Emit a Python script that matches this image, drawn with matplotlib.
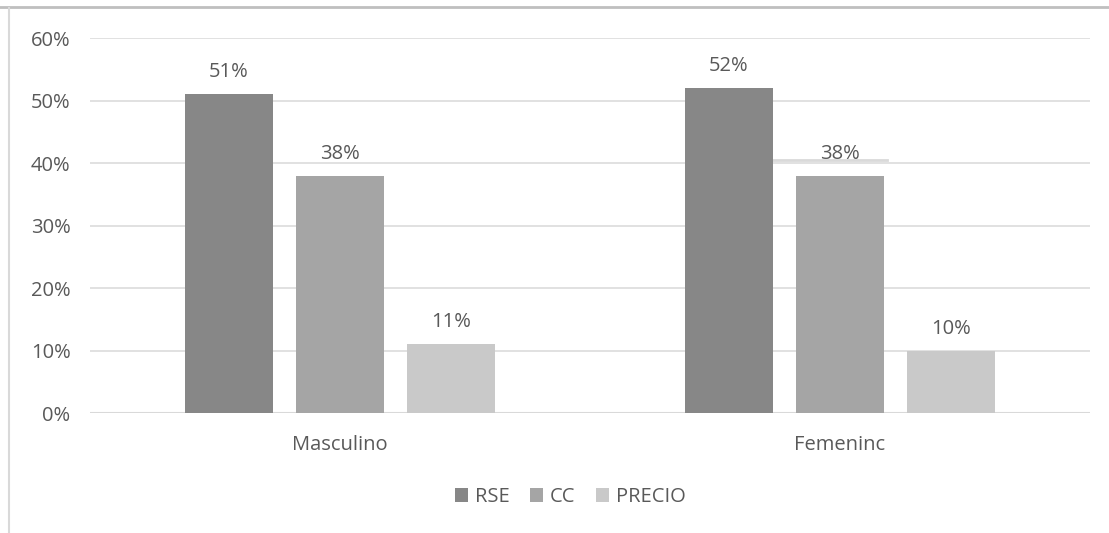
import matplotlib.pyplot as plt
import numpy as np
from matplotlib.lines import Line2D

categorias = ['Masculino', 'Femeninc']
series = ['RSE', 'CC', 'PRECIO']
rse = [0.51, 0.52]
cc = [0.38, 0.38]
precio = [0.11, 0.10]
colores = ['#878787', '#a5a5a5', '#c9c9c9']

plt.rcParams['font.family'] = ['Open Sans', 'DejaVu Sans']
texto = '#595959'
fs = 14.5

fig = plt.figure(figsize=(11.09, 5.33), dpi=100)
ax = fig.add_axes([0.0812, 0.2251, 0.9017, 0.7036])

x = np.arange(len(categorias))
ancho = 0.176
paso = 0.222
valores = [rse, cc, precio]
for i in range(len(series)):
    pos = x + (i - 1) * paso
    barras = ax.bar(pos, valores[i], width=ancho, color=colores[i], label=series[i], zorder=3)
    for b, v in zip(barras, valores[i]):
        ax.text(b.get_x() + b.get_width() / 2, v + 0.027, '%d%%' % round(v * 100),
                ha='center', va='baseline', fontsize=fs, color=texto)

# linea suelta sobre la etiqueta de CC en Femenino
ax.plot([x[1] - paso + ancho / 2, x[1] + ancho / 2 + 0.005], [0.405, 0.405],
        color='#d9d9d9', lw=2, zorder=2)

ax.set_xlim(-0.5, 1.5)
ax.set_ylim(0, 0.6)
ax.set_yticks(np.arange(0, 0.61, 0.1))
ax.set_yticklabels(['%d%%' % (t * 100) for t in np.arange(0, 0.61, 0.1)])
ax.set_xticks(x)
ax.set_xticklabels(categorias)
ax.tick_params(axis='both', length=0, labelsize=fs, labelcolor=texto)
ax.tick_params(axis='y', pad=14)
ax.tick_params(axis='x', pad=16)
ax.yaxis.grid(True, color='#d9d9d9', lw=1.1, zorder=0)
for s in ax.spines.values():
    s.set_visible(False)
ax.axhline(0, color='#d9d9d9', lw=1.5, zorder=1)

ax.legend(loc='center', bbox_to_anchor=(0.48, -0.224), ncol=3, frameon=False,
          fontsize=fs, labelcolor=texto, handlelength=0.65, handleheight=0.65,
          handletextpad=0.35, columnspacing=1.0)

# bordes del marco
fig.add_artist(Line2D([0, 1], [1 - 7 / 533, 1 - 7 / 533], color='#bfbfbf', lw=2))
fig.add_artist(Line2D([8.5 / 1109, 8.5 / 1109], [0, 1 - 8 / 533], color='#d9d9d9', lw=1.5))

fig.savefig('out.png', dpi=100)
